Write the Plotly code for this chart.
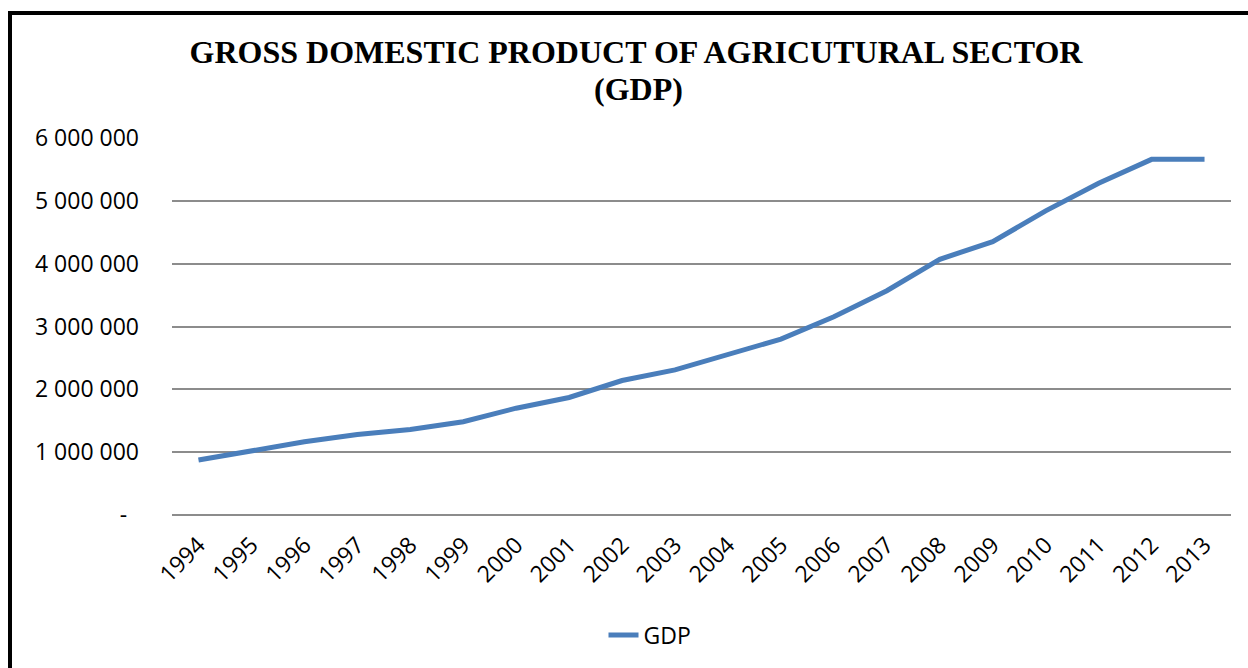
import plotly.graph_objects as go

years = [str(y) for y in range(1994, 2014)]
gdp = [875000, 1025000, 1165000, 1280000, 1360000, 1485000, 1700000, 1870000,
       2140000, 2310000, 2560000, 2800000, 3155000, 3570000, 4070000, 4350000,
       4840000, 5280000, 5660000, 5660000]
ytick_vals = [0, 1000000, 2000000, 3000000, 4000000, 5000000, 6000000]
ytick_text = ["-\u00a0\u00a0", "1 000 000", "2 000 000", "3 000 000",
              "4 000 000", "5 000 000", "6 000 000"]
title_line1 = "GROSS DOMESTIC PRODUCT OF AGRICUTURAL SECTOR"
title_line2 = "(GDP)"

W, H = 1248, 668
L, R, T, B = 172, 17, 138, 153
pw, ph = W - L - R, H - T - B

def px_x(p):
    return (p - L) / pw

def px_y(p):
    return (H - B - p) / ph

fig = go.Figure()
fig.add_trace(go.Scatter(
    x=years, y=gdp, mode="lines", name="GDP",
    line=dict(color="#4A7EBB", width=5),
))

tick_font = dict(family="Open Sans", size=23, color="#000000")
title_font = dict(family="Liberation Serif", size=32, color="#000000", weight="bold")

fig.update_layout(
    width=W, height=H,
    margin=dict(l=L, r=R, t=T, b=B),
    paper_bgcolor="white", plot_bgcolor="white",
    title=dict(
        text=title_line1, x=636 / W, xanchor="center", xref="container",
        y=1 - 52 / H, yanchor="middle", yref="container",
        font=title_font,
    ),
    annotations=[dict(
        text=title_line2, xref="paper", yref="paper",
        x=px_x(638), y=px_y(89), xanchor="center", yanchor="middle",
        showarrow=False, font=title_font,
    )],
    xaxis=dict(
        type="category", range=[-0.5, 19.5], tickangle=-45,
        showgrid=False, zeroline=False, showline=False, ticks="",
        tickfont=tick_font, ticklabelstandoff=11,
    ),
    yaxis=dict(
        range=[0, 6000000], tickvals=ytick_vals, ticktext=ytick_text,
        showgrid=True, gridcolor="#8C8C8C", gridwidth=1.5,
        zeroline=True, zerolinecolor="#8C8C8C", zerolinewidth=1.5,
        showline=False, ticks="", tickfont=tick_font, ticklabelstandoff=32,
    ),
    showlegend=True,
    legend=dict(
        orientation="h", x=px_x(650), xanchor="center",
        y=px_y(635), yanchor="middle", font=tick_font,
        bgcolor="rgba(0,0,0,0)",
    ),
    shapes=[dict(
        type="rect", xref="paper", yref="paper",
        x0=px_x(10), x1=px_x(1270), y0=px_y(690), y1=px_y(13),
        line=dict(color="black", width=4), fillcolor="rgba(0,0,0,0)", layer="above",
    )],
)

fig.write_html("out.html")
